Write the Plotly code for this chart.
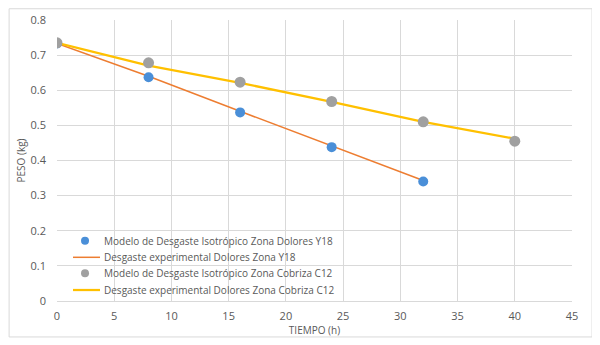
import plotly.graph_objects as go

t_y18 = [0, 8, 16, 24, 32]
model_y18 = [0.733, 0.637, 0.537, 0.438, 0.340]
exp_y18 = [0.733, 0.640, 0.540, 0.441, 0.343]

t_c12 = [0, 8, 16, 24, 32, 40]
model_c12 = [0.735, 0.678, 0.623, 0.568, 0.510, 0.455]
exp_c12 = [0.735, 0.670, 0.621, 0.567, 0.510, 0.462]

names = [
    "Modelo de Desgaste Isotrópico Zona Dolores Y18",
    "Desgaste experimental Dolores Zona Y18",
    "Modelo de Desgaste Isotrópico Zona Cobriza C12",
    "Desgaste experimental Dolores Zona Cobriza C12",
]

x_ticks = [0, 5, 10, 15, 20, 25, 30, 35, 40, 45]
y_ticks = [0, 0.1, 0.2, 0.3, 0.4, 0.5, 0.6, 0.7, 0.8]
y_ticktext = ["0", "0.1", "0.2", "0.3", "0.4", "0.5", "0.6", "0.7", "0.8"]

txt = "#595959"
font = "Open Sans"
c_blue, c_orange, c_gray, c_yellow = "#4A8FD8", "#ED7D31", "#A0A0A0", "#FFC000"

fig = go.Figure()
fig.add_trace(go.Scatter(x=t_y18, y=exp_y18, mode="lines", name=names[1],
                         line=dict(color=c_orange, width=1.5), showlegend=False))
fig.add_trace(go.Scatter(x=t_c12, y=exp_c12, mode="lines", name=names[3],
                         line=dict(color=c_yellow, width=2.25), showlegend=False))
fig.add_trace(go.Scatter(x=t_y18, y=model_y18, mode="markers", name=names[0],
                         marker=dict(color=c_blue, size=10, line=dict(width=0)),
                         showlegend=False))
fig.add_trace(go.Scatter(x=t_c12, y=model_c12, mode="markers", name=names[2],
                         marker=dict(color=c_gray, size=11, line=dict(width=0)),
                         showlegend=False))

# Manual legend (inside plot area, compact rows as in the reference)
rows_y = [0.2146, 0.1555, 0.0986, 0.0391]
kinds = ["marker", "line", "marker", "line"]
colors = [c_blue, c_orange, c_gray, c_yellow]
widths = [0, 1.5, 0, 2.25]
text_x = 0.0868
shapes = [dict(type="rect", xref="paper", yref="paper",
               x0=-0.093, x1=1.039, y0=-0.128, y1=1.040,
               line=dict(color="#D9D9D9", width=1), fillcolor="rgba(0,0,0,0)")]
annotations = []
for name, ry, kind, col, w in zip(names, rows_y, kinds, colors, widths):
    if kind == "marker":
        shapes.append(dict(type="circle", xref="paper", yref="paper",
                           xsizemode="pixel", ysizemode="pixel",
                           xanchor=0.0544, yanchor=ry,
                           x0=-4, x1=4, y0=-4, y1=4,
                           fillcolor=col, line=dict(width=0)))
    else:
        shapes.append(dict(type="line", xref="paper", yref="paper",
                           x0=0.0311, x1=0.0835, y0=ry, y1=ry,
                           line=dict(color=col, width=w)))
    annotations.append(dict(text=name, xref="paper", yref="paper", x=text_x, y=ry,
                            xanchor="left", yanchor="middle", showarrow=False,
                            font=dict(size=10, color=txt, family=font)))

# page body has an 8px default margin, so the figure is 8px smaller than the window
fig.update_layout(
    width=592, height=337,
    margin=dict(l=49, r=28, t=12, b=44),
    paper_bgcolor="white", plot_bgcolor="white",
    font=dict(family=font, size=11, color=txt),
    showlegend=False,
    xaxis=dict(range=[0, 45], tickvals=x_ticks, showgrid=True, gridcolor="#D9D9D9",
               gridwidth=1, zeroline=False, showline=True, linecolor="#D9D9D9",
               ticks="", ticklabelstandoff=5, automargin=False,
               title=dict(text="TIEMPO (h)", font=dict(size=10, color=txt), standoff=0)),
    yaxis=dict(range=[0, 0.8], tickvals=y_ticks, ticktext=y_ticktext, showgrid=True,
               gridcolor="#D9D9D9", gridwidth=1, zeroline=False, showline=False,
               ticks="", ticklabelstandoff=10, automargin=False,
               title=dict(text="PESO (kg)", font=dict(size=10, color=txt), standoff=3)),
    shapes=shapes,
    annotations=annotations,
)

fig.write_html("out.html")
